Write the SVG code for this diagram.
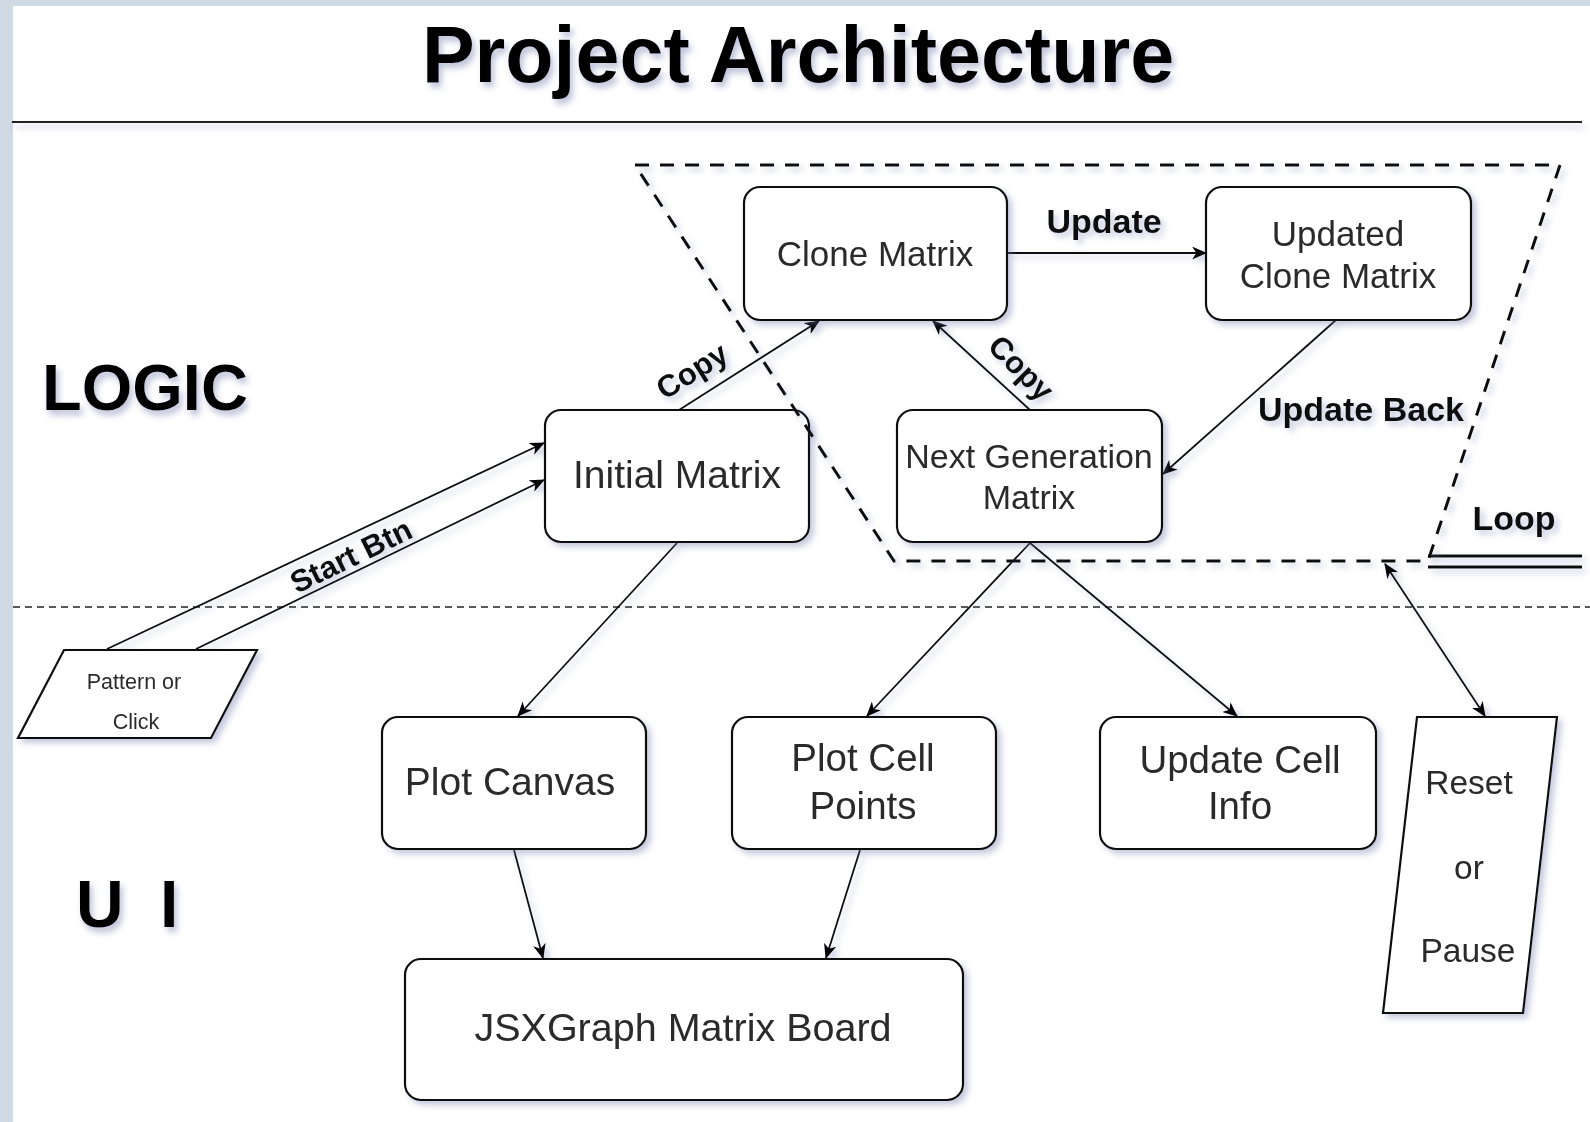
<svg xmlns="http://www.w3.org/2000/svg" width="1590" height="1122" viewBox="0 0 1590 1122">
<defs>
<filter id="sh" x="-20%" y="-20%" width="140%" height="160%">
<feDropShadow dx="4" dy="4" stdDeviation="3" flood-color="#6f78a8" flood-opacity="0.4"/>
</filter>
<filter id="tsh" x="-20%" y="-30%" width="140%" height="180%">
<feDropShadow dx="3" dy="5" stdDeviation="3" flood-color="#7078a8" flood-opacity="0.45"/>
</filter>
<marker id="arr" viewBox="0 0 14 12" refX="13" refY="6" markerWidth="15" markerHeight="13" orient="auto-start-reverse" markerUnits="userSpaceOnUse">
<path d="M0,0 L14,6 L0,12 L4,6 z" fill="#000"/>
</marker>
<style>
.box{fill:#fff;stroke:#111;stroke-width:2.2}
.nt{font-family:"Liberation Sans",Arial,sans-serif;fill:#2a2a2a;text-anchor:middle;dominant-baseline:central}
.lb{font-family:"Liberation Sans",Arial,sans-serif;font-weight:bold;fill:#111;text-anchor:middle;dominant-baseline:central}
.edge{stroke:#111;stroke-width:1.8;fill:none;marker-end:url(#arr)}
</style>
</defs>
<rect x="0" y="0" width="1590" height="1122" fill="#fff"/>
<rect x="0" y="0" width="1590" height="6" fill="#cfd9e4"/>
<rect x="0" y="0" width="13" height="1122" fill="#cfd9e4"/>

<g id="title" filter="url(#tsh)">
<text x="798" y="82" font-family="Liberation Sans, Arial, sans-serif" font-weight="bold" font-size="79" text-anchor="middle" fill="#000">Project Architecture</text>
<line x1="12" y1="122" x2="1582" y2="122" stroke="#222" stroke-width="2"/>
</g>
<line id="separator" x1="13" y1="607" x2="1590" y2="607" stroke="#222" stroke-width="1.5" stroke-dasharray="7 5"/>

<g id="label-logic" filter="url(#tsh)"><text x="42" y="410" font-family="Liberation Sans, Arial, sans-serif" font-weight="bold" font-size="65" fill="#000">LOGIC</text></g>
<g id="label-ui" filter="url(#tsh)"><text x="76" y="927" font-family="Liberation Sans, Arial, sans-serif" font-weight="bold" font-size="66" word-spacing="18" fill="#000">U I</text></g>

<g id="connectors" filter="url(#sh)">
<line class="edge" x1="1007" y1="253" x2="1206" y2="253"/>
<line class="edge" x1="1336" y1="320" x2="1163" y2="474"/>
<line class="edge" x1="679" y1="410" x2="819" y2="321"/>
<line class="edge" x1="1030" y1="410" x2="933" y2="321"/>
<line class="edge" x1="107" y1="649" x2="544" y2="443"/>
<line class="edge" x1="196" y1="649" x2="544" y2="480"/>
<line class="edge" x1="677" y1="543" x2="518" y2="716"/>
<line class="edge" x1="1030" y1="543" x2="867" y2="716"/>
<line class="edge" x1="1030" y1="543" x2="1237" y2="716"/>
<line class="edge" x1="514" y1="850" x2="543" y2="958"/>
<line class="edge" x1="860" y1="850" x2="826" y2="958"/>
<line class="edge" x1="1385" y1="564" x2="1485" y2="716" marker-start="url(#arr)"/>
<line x1="1428" y1="556" x2="1582" y2="556" stroke="#111" stroke-width="3"/>
<line x1="1428" y1="567" x2="1582" y2="567" stroke="#111" stroke-width="3"/>
<text class="lb" font-size="34" x="1104" y="221">Update</text>
<text class="lb" font-size="34" x="1361" y="409">Update Back</text>
<text class="lb" font-size="34" x="1514" y="518">Loop</text>
<text class="lb" font-size="31" transform="translate(692,371) rotate(-32)">Copy</text>
<text class="lb" font-size="31" transform="translate(1021,368) rotate(45)">Copy</text>
<text class="lb" font-size="31" transform="translate(351,556) rotate(-26)">Start Btn</text>
</g>

<g id="node-clone" filter="url(#sh)">
<rect class="box" x="744" y="187" width="263" height="133" rx="16"/>
<text class="nt" font-size="35" x="875" y="253">Clone Matrix</text>
</g>
<g id="node-updated" filter="url(#sh)">
<rect class="box" x="1206" y="187" width="265" height="133" rx="16"/>
<text class="nt" font-size="35" x="1338" y="233">Updated</text>
<text class="nt" font-size="35" x="1338" y="275">Clone Matrix</text>
</g>
<g id="node-initial" filter="url(#sh)">
<rect class="box" x="545" y="410" width="264" height="132" rx="16"/>
<text class="nt" font-size="39" x="677" y="474">Initial Matrix</text>
</g>
<g id="node-nextgen" filter="url(#sh)">
<rect class="box" x="897" y="410" width="265" height="132" rx="16"/>
<text class="nt" font-size="34" x="1029" y="456">Next Generation</text>
<text class="nt" font-size="34" x="1029" y="497">Matrix</text>
</g>
<g id="node-plotcanvas" filter="url(#sh)">
<rect class="box" x="382" y="717" width="264" height="132" rx="16"/>
<text class="nt" font-size="39" x="510" y="781">Plot Canvas</text>
</g>
<g id="node-plotcell" filter="url(#sh)">
<rect class="box" x="732" y="717" width="264" height="132" rx="16"/>
<text class="nt" font-size="38.5" x="863" y="757">Plot Cell</text>
<text class="nt" font-size="38.5" x="863" y="805">Points</text>
</g>
<g id="node-updatecell" filter="url(#sh)">
<rect class="box" x="1100" y="717" width="276" height="132" rx="16"/>
<text class="nt" font-size="38.5" x="1240" y="759">Update Cell</text>
<text class="nt" font-size="38.5" x="1240" y="805">Info</text>
</g>
<g id="node-jsx" filter="url(#sh)">
<rect class="box" x="405" y="959" width="558" height="141" rx="16"/>
<text class="nt" font-size="39.5" x="683" y="1027">JSXGraph Matrix Board</text>
</g>
<g id="node-pattern" filter="url(#sh)">
<polygon class="box" points="64,650 257,650 211,738 18,738"/>
<text class="nt" font-size="21.5" x="134" y="682">Pattern or</text>
<text class="nt" font-size="21.5" x="136" y="722">Click</text>
</g>
<g id="node-reset" filter="url(#sh)">
<polygon class="box" points="1417,717 1557,717 1523,1013 1383,1013"/>
<text class="nt" font-size="33.5" x="1469" y="782">Reset</text>
<text class="nt" font-size="33.5" x="1469" y="867">or</text>
<text class="nt" font-size="33.5" x="1468" y="950">Pause</text>
</g>
<g id="node-loop" filter="url(#sh)">
<polygon points="635,165 1560,165 1428,561 894,561" fill="none" stroke="#111" stroke-width="3" stroke-dasharray="14 11"/>
</g>
</svg>
